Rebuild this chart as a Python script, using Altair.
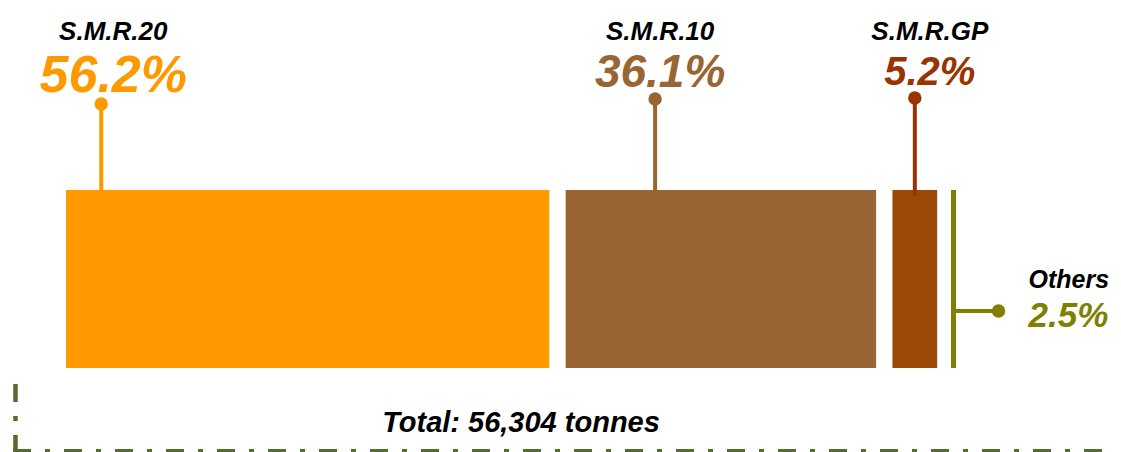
import altair as alt
import pandas as pd

# ---------------- data ----------------
categories = ["S.M.R.20", "S.M.R.10", "S.M.R.GP", "Others"]
shares = [56.2, 36.1, 5.2, 2.5]
total_label = "Total: 56,304 tonnes"

# ---------------- styles ----------------
bar_colors = ["#FF9900", "#996633", "#9A4A06", "#808000"]
accent_colors = ["#FF9900", "#996633", "#993300", "#808000"]
frame_color = "#556B2F"
FONT = "Liberation Sans"

# ---------------- layout ----------------
W, H = 1105, 444
PX = 8.6          # pixels per percentage point
X0 = 58           # pixel where the first bar starts
GAP = 1.9         # gap between bars, in percentage units
stem_offset = [4.1, 10.4, 2.6, 0.0]     # stem position inside each bar (units)
label_dx_px = [12, 5, 15, 0]            # label centre relative to stem (px)
dot_y = [96, 91, 90, 303]
pct_y = [84, 79, 77, 319]
cat_y = [32, 32, 32, 280]

starts = []
pos = 0.0
for s in shares:
    starts.append(pos)
    pos += s + GAP

df = pd.DataFrame({"cat": categories, "share": shares, "start": starts})
df["end"] = df["start"] + df["share"]
df["pct"] = df["share"].map(lambda v: f"{v:.1f}%")
df["bar_color"] = bar_colors
df["accent"] = accent_colors
df["stem_x"] = df["start"] + pd.Series(stem_offset)
df["label_x"] = df["stem_x"] + pd.Series(label_dx_px) / PX
df["dot_y"] = dot_y
df["pct_y"] = pct_y
df["cat_y"] = cat_y

main = df.iloc[:3]
other = df.iloc[3:].copy()
other["arm_end"] = other["start"] + 45 / PX
other["text_x"] = other["start"] + 75 / PX

xs = alt.Scale(domain=[-X0 / PX, (W - X0) / PX], range=[0, W], nice=False, zero=False)
ys = alt.Scale(domain=[0, H], range=[0, H], nice=False, zero=False)
pct_size = alt.Scale(domain=[2.5, 5.2, 36.1, 56.2], range=[35, 40, 46, 52])

def X(f):
    return alt.X(f, type="quantitative", scale=xs, axis=None)

def Y(f):
    return alt.Y(f, type="quantitative", scale=ys, axis=None)

bars = alt.Chart(main).mark_rect().encode(
    x=X("start"), x2="end",
    y=alt.value(182), y2=alt.value(360),
    color=alt.Color("bar_color:N", scale=None),
)

stems = alt.Chart(main).mark_rule(strokeWidth=4).encode(
    x=X("stem_x"), y=Y("dot_y"), y2=alt.value(188),
    color=alt.Color("accent:N", scale=None),
)

dots = alt.Chart(main).mark_circle(size=180, opacity=1).encode(
    x=X("stem_x"), y=Y("dot_y"),
    color=alt.Color("accent:N", scale=None),
)

pct_text = alt.Chart(main).mark_text(
    font=FONT, fontStyle="italic", fontWeight="bold", align="center", baseline="alphabetic"
).encode(
    x=X("label_x"), y=Y("pct_y"), text="pct:N",
    size=alt.Size("share:Q", scale=pct_size, legend=None),
    color=alt.Color("accent:N", scale=None),
)

cat_text = alt.Chart(main).mark_text(
    font=FONT, fontStyle="italic", fontWeight="bold", fontSize=26, align="center",
    baseline="alphabetic", color="black"
).encode(x=X("label_x"), y=Y("cat_y"), text="cat:N")

# Others
o_line = alt.Chart(other).mark_rule(strokeWidth=5).encode(
    x=X("start"), y=alt.value(182), y2=alt.value(360),
    color=alt.Color("accent:N", scale=None),
)
o_arm = alt.Chart(other).mark_rule(strokeWidth=4).encode(
    x=X("start"), x2="arm_end", y=Y("dot_y"),
    color=alt.Color("accent:N", scale=None),
)
o_dot = alt.Chart(other).mark_circle(size=180, opacity=1).encode(
    x=X("arm_end"), y=Y("dot_y"),
    color=alt.Color("accent:N", scale=None),
)
o_pct = alt.Chart(other).mark_text(
    font=FONT, fontStyle="italic", fontWeight="bold", align="left", baseline="alphabetic"
).encode(
    x=X("text_x"), y=Y("pct_y"), text="pct:N",
    size=alt.Size("share:Q", scale=pct_size, legend=None),
    color=alt.Color("accent:N", scale=None),
)
o_cat = alt.Chart(other).mark_text(
    font=FONT, fontStyle="italic", fontWeight="bold", fontSize=25, align="left",
    baseline="alphabetic", color="black"
).encode(x=X("text_x"), y=Y("cat_y"), text="cat:N")

# frame and total
deco = pd.DataFrame({"t": [total_label]})
frame_v = alt.Chart(deco).mark_rule(
    strokeWidth=4.5, color=frame_color, strokeDash=[18, 14, 5, 14], strokeCap="butt"
).encode(x=alt.value(7.5), y=alt.value(376), y2=alt.value(444))
frame_h = alt.Chart(deco).mark_rule(
    strokeWidth=3, color=frame_color, strokeDash=[18, 14, 5, 14], strokeCap="butt"
).encode(x=alt.value(5), x2=alt.value(1102), y=alt.value(442.5))
total = alt.Chart(deco).mark_text(
    font=FONT, fontStyle="italic", fontWeight="bold", fontSize=29, align="center",
    baseline="alphabetic", color="black"
).encode(x=alt.value(513), y=alt.value(424), text="t:N")

chart = alt.layer(
    bars, stems, dots, pct_text, cat_text,
    o_line, o_arm, o_dot, o_pct, o_cat,
    frame_v, frame_h, total,
).properties(
    width=W, height=H, padding=0, autosize=alt.AutoSizeParams(type="none")
).configure_view(stroke=None)

chart.save("out.html", embed_options={"renderer": "svg", "actions": False})
